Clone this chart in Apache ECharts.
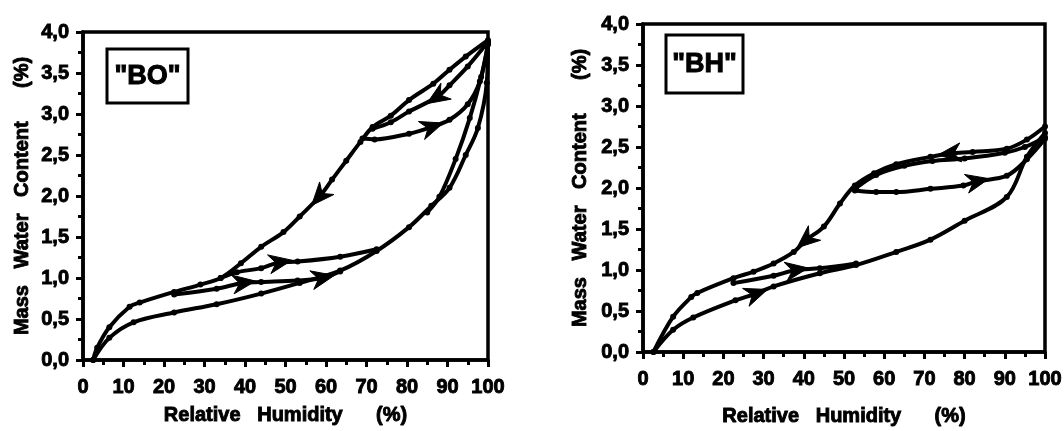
<!DOCTYPE html>
<html>
<head>
<meta charset="utf-8">
<style>html,body{margin:0;padding:0;background:#fff;}#c{width:1064px;height:431px;}</style>
<script src="https://cdn.jsdelivr.net/npm/echarts@6/dist/echarts.min.js"></script>
</head>
<body>
<div id="c"></div>
<script>
// ---------- Data (Relative Humidity %, Mass Water Content %) ----------
const panelLabels = ['"BO"', '"BH"'];
const xTitle = 'Relative   Humidity      (%)';
const yTitle = 'Mass   Water   Content      (%)';

// "BO"
const boAdsorption = [[2.5,0],[6.5,0.27],[12.5,0.46],[22.5,0.58],[33,0.68],[44,0.81],[53.5,0.94],[63.5,1.09],[72.5,1.33],[80.5,1.62],[86,1.88],[90.5,2.1],[94.5,2.5],[97.5,2.83],[99.7,3.38],[100,3.88]];
const boAdsorptionInner = [[85,1.8],[88,1.99],[92,2.45],[95.5,2.95],[98.3,3.45],[100,3.85]];
const boDesorption = [[100,3.9],[94.5,3.7],[90.5,3.54],[86.5,3.37],[80.5,3.17],[76,2.98],[71.5,2.84],[68.5,2.66],[65,2.43],[61.5,2.2],[58.5,2.0],[53.5,1.75],[49.5,1.56],[44,1.38],[39,1.18],[34,1.0],[29,0.92],[22.5,0.83],[14,0.7],[11.5,0.65],[6.5,0.4],[3.5,0.15],[2.5,0]];
const boScanDesorption = [[100,3.88],[95,3.58],[90.5,3.35],[87.5,3.21],[80.5,3.03],[76,2.9],[71.5,2.82]];
const boScanAdsHigh = [[69,2.7],[72,2.69],[80.5,2.76],[86,2.84],[90.5,2.93],[95,3.12],[98,3.4],[100,3.85]];
const boScanAdsMid = [[34,1.0],[38,1.07],[44,1.12],[48.5,1.19],[53,1.2],[63.5,1.26],[72.5,1.35]];
const boScanAdsLow = [[22.5,0.8],[33,0.87],[39.5,0.94],[44,0.95],[53,0.97],[59,1.0],[63.5,1.08]];

// "BH"
const bhAdsorption = [[2.6,0],[7.5,0.27],[12.5,0.42],[23,0.63],[28,0.71],[32.5,0.8],[44,0.96],[53,1.06],[63,1.22],[71.5,1.37],[80,1.6],[90.5,1.89],[95.5,2.38],[100,2.67]];
const bhDesorption = [[100,2.75],[95.5,2.59],[90.5,2.48],[82,2.44],[76.5,2.42],[71.5,2.38],[63,2.29],[57.5,2.18],[52.7,2.03],[49,1.81],[45,1.53],[40.7,1.37],[37.5,1.22],[32.5,1.08],[27.5,0.98],[22.5,0.9],[13.5,0.72],[12,0.67],[7.5,0.43],[2.6,0]];
const bhScanDesorption = [[100,2.62],[95,2.5],[90,2.43],[80,2.36],[72,2.33],[65,2.27],[58,2.16],[53,2.0]];
const bhScanAdsHigh = [[52.7,1.97],[58,1.95],[63,1.95],[71.5,1.99],[79.7,2.03],[83,2.08],[90.5,2.15],[95.5,2.35],[100,2.6]];
const bhScanAdsLow = [[22.5,0.84],[32.5,0.93],[38,1.0],[44,1.02],[53,1.08]];

// arrowheads: placed at a curve's point, pointing along the curve
const boArrows = [
  {curve: boDesorption, at: 10},
  {curve: boScanDesorption, at: 3},
  {curve: boScanAdsHigh, at: 3},
  {curve: boScanAdsMid, at: 3},
  {curve: boScanAdsLow, at: 2},
  {curve: boScanAdsLow, at: 5}
];
const bhArrows = [
  {curve: bhDesorption, at: 4},
  {curve: bhDesorption, at: 11},
  {curve: bhScanAdsHigh, at: 5},
  {curve: bhScanAdsLow, at: 2},
  {curve: bhAdsorption, at: 4}
];

const boCurves = [boAdsorption, boAdsorptionInner, boDesorption, boScanDesorption, boScanAdsHigh, boScanAdsMid, boScanAdsLow];
const bhCurves = [bhAdsorption, bhDesorption, bhScanDesorption, bhScanAdsHigh, bhScanAdsLow];

// ---------- Chart ----------
const FONT = '"Liberation Sans", Arial, Helvetica, sans-serif';
const chart = echarts.init(document.getElementById('c'), null, {renderer: 'canvas'});

const heavyText = {color: '#000', fontSize: 20, fontWeight: 'bold', fontFamily: FONT, textBorderColor: '#000', textBorderWidth: 0.9};

function xAxis(gi, gap) {
  return {
    type: 'value', gridIndex: gi, min: 0, max: 100, interval: 10,
    axisLine: {show: true, onZero: false, lineStyle: {color: '#000', width: 3.5}},
    axisTick: {show: true, inside: false, length: 7, lineStyle: {color: '#000', width: 3}},
    minorTick: {show: true, splitNumber: 2, length: 5, lineStyle: {color: '#000', width: 3}},
    splitLine: {show: false},
    axisLabel: Object.assign({margin: 17, hideOverlap: false}, heavyText),
    name: xTitle, nameLocation: 'middle', nameGap: gap,
    nameTextStyle: Object.assign({}, heavyText, {fontSize: 20})
  };
}
function yAxis(gi, gap) {
  return {
    type: 'value', gridIndex: gi, min: 0, max: 4, interval: 0.5,
    axisLine: {show: true, onZero: false, lineStyle: {color: '#000', width: 3.5}},
    axisTick: {show: true, inside: false, length: 7, lineStyle: {color: '#000', width: 3}},
    minorTick: {show: true, splitNumber: 2, length: 5, lineStyle: {color: '#000', width: 3}},
    splitLine: {show: false},
    axisLabel: Object.assign({margin: 14, hideOverlap: false,
      formatter: v => v.toFixed(1).replace('.', ',')}, heavyText),
    name: yTitle, nameLocation: 'middle', nameGap: gap,
    nameTextStyle: Object.assign({}, heavyText, {fontSize: 20})
  };
}

function lineSeries(data, gi) {
  return {
    type: 'line', xAxisIndex: gi, yAxisIndex: gi, data: data,
    smooth: 0.35, symbol: 'circle', symbolSize: 6, showSymbol: true,
    lineStyle: {color: '#000', width: 4}, itemStyle: {color: '#000'},
    clip: false, z: 3, silent: true
  };
}

function arrowData(list) {
  return list.map(({curve, at}) => [
    curve[at][0], curve[at][1],
    curve[at - 1][0], curve[at - 1][1],
    curve[at + 1][0], curve[at + 1][1]
  ]);
}
function renderArrow(params, api) {
  const p = api.coord([api.value(0), api.value(1)]);
  const a = api.coord([api.value(2), api.value(3)]);
  const b = api.coord([api.value(4), api.value(5)]);
  let dx = b[0] - a[0], dy = b[1] - a[1];
  const len = Math.hypot(dx, dy) || 1; dx /= len; dy /= len;
  const nx = -dy, ny = dx;
  const L = 23, W = 9.5, N = 7;
  const tip = [p[0] + dx * L * 0.55, p[1] + dy * L * 0.55];
  const base = [p[0] - dx * L * 0.45, p[1] - dy * L * 0.45];
  const notch = [base[0] + dx * N, base[1] + dy * N];
  return {
    type: 'polygon',
    shape: {points: [tip, [base[0] + nx * W, base[1] + ny * W], notch, [base[0] - nx * W, base[1] - ny * W]]},
    style: {fill: '#000', stroke: '#000', lineWidth: 1, lineJoin: 'round'}
  };
}
function arrowSeries(list, gi) {
  return {
    type: 'custom', xAxisIndex: gi, yAxisIndex: gi, data: arrowData(list),
    encode: {x: 0, y: 1}, renderItem: renderArrow, z: 5, silent: true, clip: false
  };
}

const gridBase = {show: true, borderColor: '#000', borderWidth: 3.5, backgroundColor: 'transparent', containLabel: false, outerBoundsMode: 'none'};

const labelText = {align: 'center', verticalAlign: 'middle', fontSize: 27, fontWeight: 'bold', fontFamily: FONT, fill: '#000', stroke: '#000', lineWidth: 1};

const option = {
  animation: false,
  backgroundColor: '#fff',
  grid: [
    Object.assign({left: 83, top: 32, width: 405, height: 328}, gridBase),
    Object.assign({left: 643, top: 24, width: 402, height: 328}, gridBase)
  ],
  xAxis: [xAxis(0, 45), xAxis(1, 54)],
  yAxis: [yAxis(0, 51), yAxis(1, 53)],
  series: [
    ...boCurves.map(c => lineSeries(c, 0)),
    ...bhCurves.map(c => lineSeries(c, 1)),
    arrowSeries(boArrows, 0),
    arrowSeries(bhArrows, 1)
  ],
  graphic: [
    {type: 'rect', shape: {x: 107, y: 49, width: 81, height: 54}, style: {fill: 'none', stroke: '#000', lineWidth: 3}},
    {type: 'text', x: 147.5, y: 77, style: Object.assign({text: panelLabels[0]}, labelText)},
    {type: 'rect', shape: {x: 666, y: 35, width: 77, height: 58}, style: {fill: 'none', stroke: '#000', lineWidth: 3}},
    {type: 'text', x: 704.5, y: 65, style: Object.assign({text: panelLabels[1]}, labelText)}
  ]
};
chart.setOption(option);
</script>
</body>
</html>
